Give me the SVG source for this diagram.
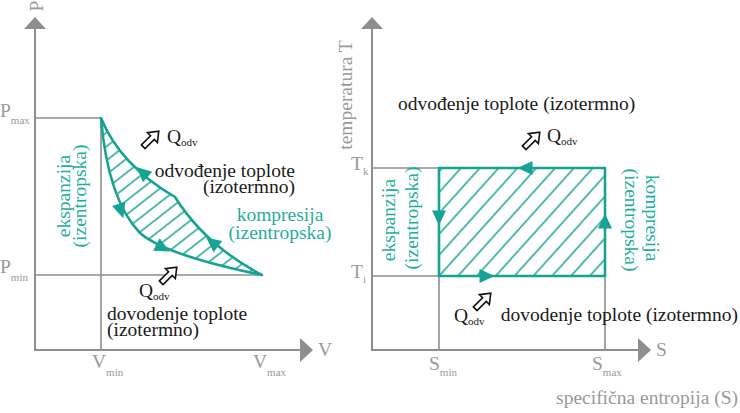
<svg xmlns="http://www.w3.org/2000/svg" width="740" height="413" viewBox="0 0 740 413">
<style>
.ax{stroke:#8e8e8e;stroke-width:2;fill:none;}
.guide{stroke:#8e8e8e;stroke-width:1.6;fill:none;}
.axhead{fill:#8e8e8e;}
.cyc{stroke:#17a394;stroke-width:2.6;fill:none;stroke-linejoin:round;}
.tri{fill:#17a394;}
.ha{fill:#fff;stroke:#111;stroke-width:1.6;stroke-linejoin:miter;}
</style>
<defs>
<pattern id="hatchL" patternUnits="userSpaceOnUse" width="20" height="11" patternTransform="rotate(-38)">
<line x1="0" y1="5" x2="20" y2="5" stroke="#17a394" stroke-width="1.5"/>
</pattern>
<pattern id="hatchR" patternUnits="userSpaceOnUse" width="20" height="14" patternTransform="rotate(-48)">
<line x1="0" y1="7" x2="20" y2="7" stroke="#17a394" stroke-width="1.5"/>
</pattern>
<path id="tri" d="M-7.5,-7 L7.5,0 L-7.5,7 Z"/>
<path id="harrow" d="M-11,-2.6 L2,-2.6 L2,-7 L11,0 L2,7 L2,2.6 L-11,2.6 Z"/>
</defs>

<!-- LEFT P-V diagram -->
<g id="pv-axes">
<line class="ax" x1="35" y1="26" x2="35" y2="351"/>
<path class="axhead" d="M24,29 L46,29 L35,17 Z"/>
<line class="ax" x1="34" y1="350" x2="301" y2="350"/>
<path class="axhead" d="M300,338 L300,362 L313,350 Z"/>
<text font-family="Liberation Serif" font-size="19.5" fill="#9a9a9a" transform="translate(43,6) rotate(-90)" text-anchor="middle">P</text>
<text font-family="Liberation Serif" font-size="19.5" fill="#9a9a9a" x="318" y="356">V</text>
</g>
<g id="pv-guides">
<line class="guide" x1="35" y1="118" x2="101" y2="118"/>
<line class="guide" x1="101" y1="118" x2="101" y2="350"/>
<line class="guide" x1="35" y1="275" x2="262" y2="275"/>
<text font-family="Liberation Serif" font-size="19.5" fill="#9a9a9a" x="0" y="117">P<tspan font-size="11" dy="7">max</tspan></text>
<text font-family="Liberation Serif" font-size="19.5" fill="#9a9a9a" x="0" y="273">P<tspan font-size="11" dy="8">min</tspan></text>
<text font-family="Liberation Serif" font-size="19.5" fill="#9a9a9a" x="92" y="368">V<tspan font-size="11" dy="8">min</tspan></text>
<text font-family="Liberation Serif" font-size="19.5" fill="#9a9a9a" x="253" y="368">V<tspan font-size="11" dy="8">max</tspan></text>
</g>
<g id="pv-cycle">
<path d="M101,118 Q120,165 175,197 Q205,245 262,275 Q165,255 140,233 Q108,200 101,118 Z" fill="url(#hatchL)"/>
<path class="cyc" d="M101,118 Q120,165 175,197 Q205,245 262,275 Q165,255 140,233 Q108,200 101,118 Z"/>
</g>
<g id="connectors">
<use href="#tri" class="tri" transform="translate(142,172) rotate(222)"/>
<use href="#tri" class="tri" transform="translate(121,211) rotate(72)"/>
<use href="#tri" class="tri" transform="translate(163,248) rotate(28)"/>
<use href="#tri" class="tri" transform="translate(212,242) rotate(218)"/>
<use href="#tri" class="tri" transform="translate(525,168) rotate(180)"/>
<use href="#tri" class="tri" transform="translate(439,218) rotate(90)"/>
<use href="#tri" class="tri" transform="translate(487,276) rotate(0)"/>
<use href="#tri" class="tri" transform="translate(605,221) rotate(-90)"/>
<use href="#harrow" class="ha" transform="translate(151,139) rotate(-45)"/>
<use href="#harrow" class="ha" transform="translate(169,275) rotate(-45)"/>
<use href="#harrow" class="ha" transform="translate(532,140) rotate(-45)"/>
<use href="#harrow" class="ha" transform="translate(483,301) rotate(-45)"/>
</g>
<g id="pv-labels">
<text font-family="Liberation Serif" font-size="19.5" fill="#1a1a1a" x="167" y="143">Q<tspan font-size="11" dy="3">odv</tspan></text>
<text font-family="Liberation Serif" font-size="19.5" fill="#1a1a1a" x="295" y="177" text-anchor="end">odvođenje toplote</text>
<text font-family="Liberation Serif" font-size="19.5" fill="#1a1a1a" x="295" y="193" text-anchor="end">(izotermno)</text>
<text font-family="Liberation Serif" font-size="19.5" fill="#1fae9f" x="280" y="221" text-anchor="middle">kompresija</text>
<text font-family="Liberation Serif" font-size="19.5" fill="#1fae9f" x="280" y="239" text-anchor="middle">(izentropska)</text>
<text font-family="Liberation Serif" font-size="19.5" fill="#1fae9f" transform="translate(70,196) rotate(-90)" text-anchor="middle">ekspanzija</text>
<text font-family="Liberation Serif" font-size="19.5" fill="#1fae9f" transform="translate(86,196) rotate(-90)" text-anchor="middle">(izentropska)</text>
<text font-family="Liberation Serif" font-size="19.5" fill="#1a1a1a" x="139" y="297">Q<tspan font-size="11" dy="3">odv</tspan></text>
<text font-family="Liberation Serif" font-size="19.5" fill="#1a1a1a" x="107" y="320">dovodenje toplote</text>
<text font-family="Liberation Serif" font-size="19.5" fill="#1a1a1a" x="107" y="336">(izotermno)</text>
</g>

<!-- RIGHT T-S diagram -->
<g id="ts-axes">
<line class="ax" x1="372" y1="26" x2="372" y2="351"/>
<path class="axhead" d="M361,29 L383,29 L372,17 Z"/>
<line class="ax" x1="371" y1="350" x2="639" y2="350"/>
<path class="axhead" d="M638,338 L638,362 L651,350 Z"/>
<text font-family="Liberation Serif" font-size="19.5" fill="#9a9a9a" transform="translate(352,95) rotate(-90)" text-anchor="middle">temperatura T</text>
<text font-family="Liberation Serif" font-size="19.5" fill="#9a9a9a" x="656" y="356">S</text>
<text font-family="Liberation Serif" font-size="19.5" fill="#9a9a9a" x="738" y="404" text-anchor="end">specifična entropija (S)</text>
</g>
<g id="ts-guides">
<line class="guide" x1="372" y1="168" x2="439" y2="168"/>
<line class="guide" x1="372" y1="276" x2="439" y2="276"/>
<line class="guide" x1="439" y1="276" x2="439" y2="350"/>
<line class="guide" x1="605" y1="276" x2="605" y2="350"/>
<text font-family="Liberation Serif" font-size="19.5" fill="#9a9a9a" x="351" y="170">T<tspan font-size="11" dy="5">k</tspan></text>
<text font-family="Liberation Serif" font-size="19.5" fill="#9a9a9a" x="351" y="278">T<tspan font-size="11" dy="5">i</tspan></text>
<text font-family="Liberation Serif" font-size="19.5" fill="#9a9a9a" x="429" y="370">S<tspan font-size="11" dy="6">min</tspan></text>
<text font-family="Liberation Serif" font-size="19.5" fill="#9a9a9a" x="592" y="370">S<tspan font-size="11" dy="6">max</tspan></text>
</g>
<g id="ts-cycle">
<rect x="439" y="168" width="166" height="108" fill="url(#hatchR)"/>
<rect class="cyc" x="439" y="168" width="166" height="108"/>
</g>
<g id="ts-labels">
<text font-family="Liberation Serif" font-size="19.5" fill="#1a1a1a" x="398" y="110">odvođenje toplote (izotermno)</text>
<text font-family="Liberation Serif" font-size="19.5" fill="#1a1a1a" x="547" y="142">Q<tspan font-size="11" dy="3">odv</tspan></text>
<text font-family="Liberation Serif" font-size="19.5" fill="#1a1a1a" x="454" y="322">Q<tspan font-size="11" dy="3">odv</tspan></text>
<text font-family="Liberation Serif" font-size="19.5" fill="#1a1a1a" x="738" y="321" text-anchor="end">dovodenje toplote (izotermno)</text>
<text font-family="Liberation Serif" font-size="19.5" fill="#1fae9f" transform="translate(395,220) rotate(-90)" text-anchor="middle">ekspanzija</text>
<text font-family="Liberation Serif" font-size="19.5" fill="#1fae9f" transform="translate(418,218) rotate(-90)" text-anchor="middle">(izentropska)</text>
<text font-family="Liberation Serif" font-size="19.5" fill="#1fae9f" transform="translate(646,218) rotate(90)" text-anchor="middle">kompresija</text>
<text font-family="Liberation Serif" font-size="19.5" fill="#1fae9f" transform="translate(625,220) rotate(90)" text-anchor="middle">(izentropska)</text>
</g>
</svg>
